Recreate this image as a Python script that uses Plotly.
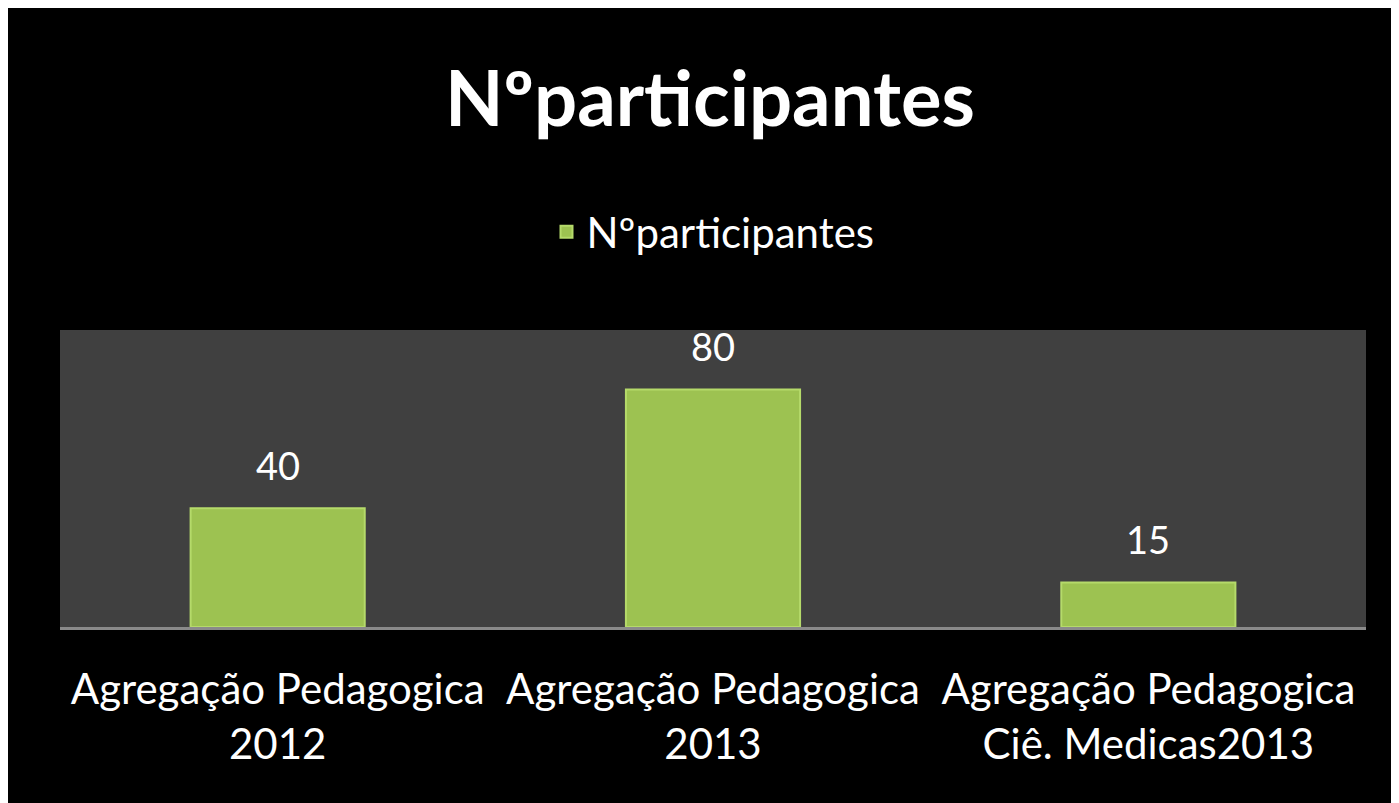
import plotly.graph_objects as go

categories = ["Agregação Pedagogica<br>2012", "Agregação Pedagogica<br>2013", "Agregação Pedagogica<br>Ciê. Medicas2013"]
values = [40, 80, 15]
series_name = "Nºparticipantes"
title_text = "Nºparticipantes"

OFF = 8  # page body margin
W, H = 1399 - OFF, 803 - OFF
L, R, T, B = 60 - OFF, 1366 - OFF, 330 - OFF, 627 - OFF
ph = B - T

def px_y(py):
    return (B - (py - OFF)) / ph

fig = go.Figure()
fig.add_trace(go.Bar(
    x=categories, y=values, name=series_name,
    marker=dict(color="#9DC251", line=dict(color="#B5DA6A", width=2)),
    showlegend=True,
))
for c, v in zip(categories, values):
    fig.add_annotation(x=c, y=v, text=str(v), showarrow=False, yanchor="middle", yshift=43,
                       font=dict(family="Lato", size=38, color="white"))

fig.update_layout(
    width=W, height=H,
    margin=dict(l=L, r=W - R, t=T, b=H - B, pad=0),
    paper_bgcolor="black", plot_bgcolor="#404040",
    bargap=0.6,
    title=dict(text=title_text, x=(710 - OFF) / W, xanchor="center", y=1 - (99 - OFF) / H, yanchor="middle",
               font=dict(family="Lato", size=76, color="white", weight="bold")),
    legend=dict(orientation="h", x=0.5, xanchor="center", y=px_y(232), yanchor="middle",
                font=dict(family="Lato", size=42, color="white"), bgcolor="rgba(0,0,0,0)"),
    xaxis=dict(showline=True, linecolor="#8a8a8a", linewidth=3, showgrid=False,
               ticks="", tickfont=dict(family="Lato", size=42, color="white"),
               ticklabelstandoff=24),
    yaxis=dict(range=[0, 100], showticklabels=False, showgrid=False, zeroline=False,
               showline=False, ticks=""),
)

fig.write_html("out.html")
